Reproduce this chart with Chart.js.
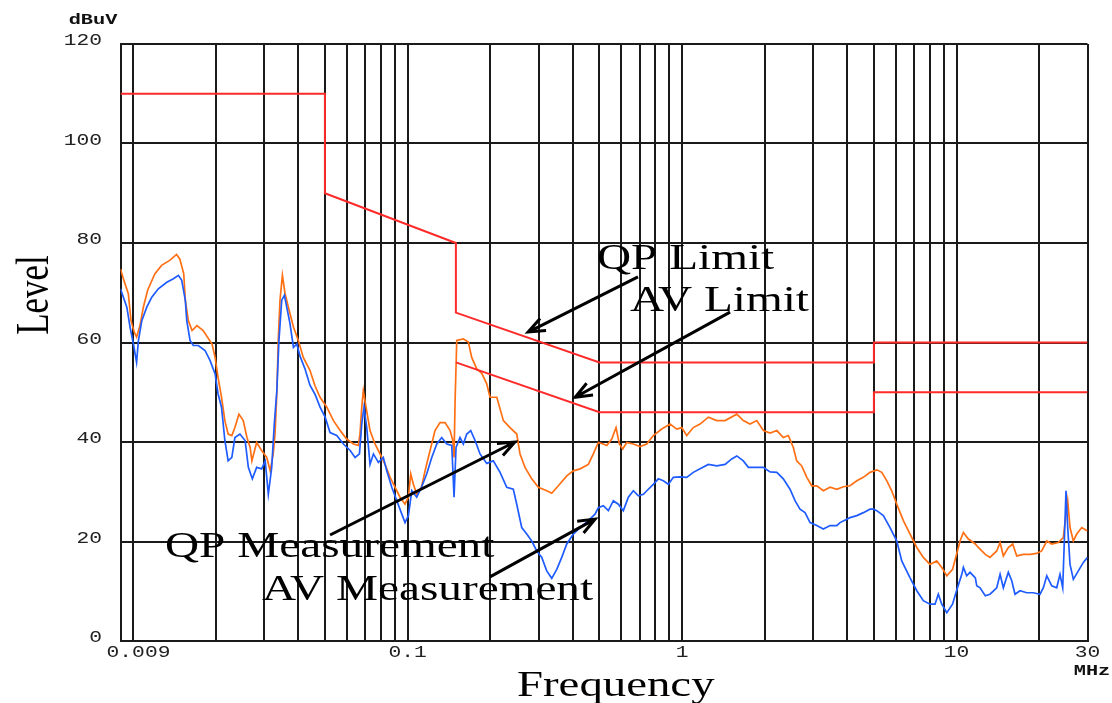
<!DOCTYPE html>
<html>
<head>
<meta charset="utf-8">
<title>Conducted emission scan</title>
<script src="https://cdn.jsdelivr.net/npm/chart.js@4.4.1/dist/chart.umd.min.js"></script>
<style>
  body { margin: 0; background: #fff; }
  canvas { display: block; }
</style>
</head>
<body>
<canvas id="scan" width="1112" height="703"></canvas>
<script>
// frequency in MHz, level in dBuV
var qpFreq = [
  0.009, 0.00922, 0.00961, 0.00983, 0.0101, 0.0103, 0.0106, 0.0109, 0.0113, 0.0120,
  0.0127, 0.0136, 0.0144, 0.0148, 0.0153, 0.0155, 0.0159, 0.0164, 0.0171, 0.0180,
  0.0194, 0.0199, 0.0204, 0.0210, 0.0216, 0.0222, 0.0229, 0.0235, 0.0243, 0.0252,
  0.0260, 0.0267, 0.0271, 0.0282, 0.0294, 0.0307, 0.0316, 0.0324, 0.0329, 0.0334,
  0.0338, 0.0343, 0.0350, 0.0358, 0.0368, 0.0384, 0.0400, 0.0417, 0.0441, 0.0460,
  0.0480, 0.0508, 0.0537, 0.0568, 0.0600, 0.0635, 0.0662, 0.0671, 0.0681, 0.0690,
  0.0706, 0.0730, 0.0761, 0.0794, 0.0828, 0.0864, 0.0901, 0.0939, 0.0979, 0.1007,
  0.1027, 0.1050, 0.1080, 0.1124, 0.1158, 0.1208, 0.1259, 0.1313, 0.1370, 0.1429,
  0.1462, 0.1477, 0.1490, 0.1511, 0.1597, 0.1665, 0.1713, 0.1787, 0.1864, 0.1943,
  0.1997, 0.2114, 0.2234, 0.2362, 0.2499, 0.2569, 0.2679, 0.2834, 0.2996, 0.3214,
  0.3352, 0.3543, 0.3802, 0.4017, 0.4250, 0.4556, 0.4751, 0.4955, 0.5167, 0.5318,
  0.5546, 0.5748, 0.5909, 0.6081, 0.6290, 0.6647, 0.7030, 0.7437, 0.7859, 0.8433,
  0.9043, 0.9566, 0.9975, 1.040, 1.099, 1.163, 1.247, 1.338, 1.435, 1.583,
  1.672, 1.769, 1.872, 1.978, 2.093, 2.215, 2.338, 2.439, 2.544, 2.616,
  2.729, 2.848, 2.969, 3.097, 3.272, 3.461, 3.663, 3.869, 4.093, 4.332,
  4.576, 4.840, 5.123, 5.341, 5.572, 5.806, 6.058, 6.402, 6.771, 7.166,
  7.569, 8.006, 8.473, 8.834, 9.217, 9.670, 10.00, 10.30, 10.59, 11.04,
  11.71, 12.00, 12.73, 13.24, 14.01, 14.41, 14.81, 15.44, 16.02, 16.57,
  17.51, 18.53, 19.59, 20.43, 21.32, 22.23, 23.48, 24.49, 25.05, 25.41,
  25.91, 26.64, 27.41, 28.58, 30.00
];
var qpLevel = [
  74.8, 72.8, 69.8, 64.4, 62.1, 61.1, 63.4, 67.1, 70.5, 73.8,
  75.5, 76.5, 77.7, 76.8, 73.8, 68.5, 64.4, 62.4, 63.4, 62.4,
  59.7, 57.0, 53.0, 49.0, 44.3, 41.6, 41.3, 42.9, 45.6, 44.3,
  40.9, 38.9, 36.2, 39.9, 38.3, 36.9, 34.2, 37.6, 41.6, 49.7,
  60.4, 68.5, 73.5, 69.8, 67.1, 63.1, 60.4, 57.0, 54.4, 51.3,
  49.0, 47.0, 44.3, 42.3, 40.6, 39.6, 39.3, 41.6, 47.0, 50.3,
  47.0, 42.3, 39.6, 37.6, 35.5, 32.9, 30.9, 28.9, 27.5, 28.9,
  33.6, 31.5, 29.5, 30.9, 34.2, 38.3, 42.3, 43.9, 43.9, 42.3,
  40.3, 36.9, 48.3, 60.4, 60.7, 60.1, 57.0, 54.7, 53.8, 51.7,
  49.0, 49.0, 44.3, 42.9, 41.6, 37.6, 34.9, 32.6, 30.9, 30.2,
  29.7, 31.2, 33.2, 34.2, 34.6, 35.5, 37.6, 39.9, 39.6, 39.3,
  40.6, 42.9, 39.6, 38.6, 39.9, 39.6, 39.1, 39.6, 41.3, 42.6,
  43.6, 42.6, 42.9, 41.3, 42.9, 43.6, 45.0, 44.3, 44.3, 45.6,
  44.3, 43.6, 44.3, 42.3, 41.8, 42.3, 40.9, 41.3, 38.9, 36.2,
  35.2, 32.9, 31.2, 31.2, 30.2, 30.9, 30.5, 31.0, 31.2, 32.2,
  32.9, 33.9, 34.4, 33.9, 32.2, 30.2, 27.5, 24.2, 21.5, 18.8,
  16.8, 15.4, 16.1, 14.8, 13.1, 14.4, 17.4, 20.1, 21.8, 20.5,
  19.5, 18.8, 17.4, 16.8, 18.1, 19.8, 17.1, 18.8, 19.5, 17.1,
  17.4, 17.4, 17.6, 18.1, 20.1, 19.5, 19.8, 20.8, 25.5, 28.2,
  22.8, 20.1, 21.5, 22.8, 22.1
];

var avFreq = [
  0.009, 0.00922, 0.00949, 0.00975, 0.01003, 0.0103, 0.01046, 0.01076, 0.01122, 0.01170,
  0.01236, 0.01327, 0.01403, 0.01463, 0.01504, 0.0155, 0.01569, 0.01613, 0.01658, 0.01729,
  0.01829, 0.01907, 0.0199, 0.0204, 0.0210, 0.0216, 0.0222, 0.0229, 0.0235, 0.0245,
  0.0256, 0.0263, 0.0272, 0.0282, 0.0294, 0.0303, 0.0311, 0.0320, 0.0327, 0.0334,
  0.0340, 0.0348, 0.0356, 0.0363, 0.0373, 0.0384, 0.0395, 0.0406, 0.0423, 0.0441,
  0.0460, 0.0480, 0.0501, 0.0522, 0.0552, 0.0584, 0.0618, 0.0644, 0.0668, 0.0681,
  0.0694, 0.0710, 0.0730, 0.0751, 0.0783, 0.0816, 0.0840, 0.0876, 0.0914, 0.0953,
  0.0979, 0.1007, 0.1036, 0.1080, 0.1124, 0.1175, 0.1225, 0.1278, 0.1332, 0.1390,
  0.1449, 0.1477, 0.1502, 0.1553, 0.1597, 0.1643, 0.1699, 0.1762, 0.1837, 0.1943,
  0.2053, 0.2173, 0.2298, 0.2428, 0.2499, 0.2606, 0.2718, 0.2834, 0.2956, 0.3083,
  0.3214, 0.3352, 0.3496, 0.3645, 0.3802, 0.4017, 0.4250, 0.4556, 0.4820, 0.4955,
  0.5167, 0.5390, 0.5620, 0.5860, 0.6110, 0.6374, 0.6647, 0.6931, 0.7227, 0.7537,
  0.7859, 0.8196, 0.8546, 0.8915, 0.9296, 0.9833, 1.040, 1.099, 1.163, 1.247,
  1.338, 1.435, 1.517, 1.583, 1.672, 1.744, 1.872, 1.978, 2.093, 2.215,
  2.338, 2.474, 2.580, 2.690, 2.806, 2.927, 3.097, 3.272, 3.461, 3.663,
  3.763, 4.093, 4.332, 4.576, 4.840, 4.976, 5.123, 5.413, 5.724, 6.058,
  6.316, 6.771, 7.166, 7.569, 8.006, 8.349, 8.583, 8.834, 9.217, 9.670,
  10.00, 10.45, 10.59, 10.89, 11.20, 11.71, 11.85, 12.18, 12.73, 13.24,
  14.01, 14.41, 14.81, 15.44, 15.89, 16.33, 17.03, 18.02, 19.04, 20.14,
  20.72, 21.32, 22.23, 23.17, 23.82, 24.37, 24.70, 25.05, 25.41, 25.91,
  26.64, 27.78, 28.97, 30.00
];
var avLevel = [
  70.8, 69.1, 67.1, 63.1, 59.7, 56.0, 60.4, 64.4, 67.1, 69.1,
  70.8, 72.1, 72.8, 73.5, 72.5, 68.5, 64.4, 60.4, 59.4, 59.4,
  58.4, 56.4, 53.7, 49.7, 47.0, 40.3, 36.2, 36.9, 40.9, 41.6,
  40.3, 34.9, 32.6, 34.9, 34.6, 36.2, 29.5, 34.9, 43.6, 50.3,
  60.4, 68.5, 69.5, 67.1, 63.8, 59.0, 59.7, 57.2, 54.7, 51.4,
  49.6, 47.0, 45.0, 41.9, 41.3, 39.6, 38.3, 36.9, 37.6, 43.6,
  47.0, 42.9, 35.5, 37.6, 35.9, 36.9, 34.2, 30.9, 28.2, 25.5,
  23.8, 25.2, 30.2, 28.9, 30.9, 33.6, 36.9, 39.6, 40.9, 39.6,
  39.3, 28.9, 38.9, 40.9, 39.6, 41.6, 42.3, 40.3, 37.6, 35.7,
  36.2, 33.9, 30.9, 30.5, 27.5, 22.8, 21.5, 20.1, 18.1, 16.8,
  14.1, 12.6, 14.4, 16.8, 19.5, 21.5, 22.8, 24.2, 25.5, 26.8,
  27.2, 26.2, 28.2, 27.5, 26.2, 28.9, 30.2, 29.2, 29.5, 30.5,
  31.5, 32.6, 32.2, 31.5, 32.9, 33.0, 32.9, 33.9, 34.6, 35.5,
  35.2, 35.5, 36.6, 37.2, 36.2, 34.9, 34.9, 34.9, 34.0, 33.9,
  32.6, 30.5, 28.2, 26.5, 25.8, 23.8, 23.2, 22.5, 23.2, 23.2,
  23.8, 24.8, 25.2, 25.8, 26.5, 26.5, 26.2, 25.2, 22.8, 20.1,
  16.1, 12.7, 10.1, 8.1, 7.4, 7.4, 9.4, 7.4, 5.7, 7.4,
  10.1, 13.4, 14.8, 13.1, 13.8, 12.7, 11.1, 10.7, 9.1, 9.4,
  10.7, 13.4, 10.7, 13.8, 12.1, 9.4, 10.1, 9.7, 9.7, 9.4,
  10.7, 13.1, 11.1, 10.7, 13.4, 10.7, 20.1, 30.2, 22.8, 15.4,
  12.4, 14.1, 15.8, 16.8
];

var qpLimitFreq = [0.009, 0.05, 0.05, 0.15, 0.15, 0.5, 5, 5, 30];
var qpLimitLevel = [110, 110, 90, 80, 66, 56, 56, 60, 60];
var avLimitFreq = [0.15, 0.5, 5, 5, 30];
var avLimitLevel = [56, 46, 46, 50, 50];

var xGrid = [0.009, 0.01, 0.02, 0.03, 0.04, 0.05, 0.06, 0.07, 0.08, 0.09,
  0.1, 0.2, 0.3, 0.4, 0.5, 0.6, 0.7, 0.8, 0.9,
  1, 2, 3, 4, 5, 6, 7, 8, 9, 10, 20, 30];
var xTickValues = [0.009, 0.1, 1, 10, 30];
var xTickLabels = ["0.009", "0.1", "1", "10", "30"];
var yTickValues = [0, 20, 40, 60, 80, 100, 120];

// annotation arrows: [freq, level] of tail and head
var notes = [
  { text: "QP Limit", from: [0.691, 73.2], to: [0.275, 62.1] },
  { text: "AV Limit", from: [1.496, 66.1], to: [0.408, 49.0] },
  { text: "QP Measurement", from: [0.0522, 21.3], to: [0.246, 40.0] },
  { text: "AV Measurement", from: [0.1997, 12.9], to: [0.482, 24.5] }
];
var notePos = [[597, 269], [630, 311], [165, 557], [262, 600]];

function pairs(xs, ys) {
  return xs.map(function (x, i) { return { x: x, y: ys[i] }; });
}

function stretchText(ctx, text, x, y, font, sx, align) {
  ctx.save();
  ctx.translate(x, y);
  ctx.scale(sx, 1);
  ctx.font = font;
  ctx.textAlign = align;
  ctx.fillText(text, 0, 0);
  ctx.restore();
}

function arrow(ctx, x1, y1, x2, y2) {
  var a = Math.atan2(y1 - y2, x1 - x2);
  var len = 18, spread = 0.38;
  ctx.beginPath();
  ctx.moveTo(x1, y1);
  ctx.lineTo(x2, y2);
  ctx.moveTo(x2 + len * Math.cos(a - spread), y2 + len * Math.sin(a - spread));
  ctx.lineTo(x2, y2);
  ctx.lineTo(x2 + len * Math.cos(a + spread), y2 + len * Math.sin(a + spread));
  ctx.stroke();
}

var textPlugin = {
  id: "scanText",
  afterDraw: function (chart) {
    var ctx = chart.ctx;
    var xs = chart.scales.x, ys = chart.scales.y;
    var area = chart.chartArea;
    var mono = '17px "Liberation Mono", "DejaVu Sans Mono", monospace';
    var serif = '35px "Liberation Serif", "DejaVu Serif", serif';
    ctx.save();
    ctx.fillStyle = "#222";
    ctx.textBaseline = "middle";
    yTickValues.forEach(function (v) {
      stretchText(ctx, String(v), 102, ys.getPixelForValue(v) - 3.5, mono, 1.25, "right");
    });
    xTickValues.forEach(function (v, i) {
      var px = Math.max(xs.getPixelForValue(v), area.left + 18);
      stretchText(ctx, xTickLabels[i], px, area.bottom + 11, mono, 1.25, "center");
    });
    ctx.fillStyle = "#111";
    stretchText(ctx, "dBuV", 93, 20, 'bold 14px "Liberation Mono", monospace', 1.45, "center");
    stretchText(ctx, "MHz", 1092, 671, 'bold 14px "Liberation Mono", monospace', 1.45, "center");

    ctx.fillStyle = "#000";
    ctx.textBaseline = "alphabetic";
    stretchText(ctx, "Frequency", 517, 696, '36px "Liberation Serif", serif', 1.3, "left");
    ctx.save();
    ctx.translate(48, 295);
    ctx.rotate(-Math.PI / 2);
    ctx.scale(1, 1.35);
    ctx.font = serif;
    ctx.textAlign = "center";
    ctx.fillText("Level", 0, 0);
    ctx.restore();

    ctx.strokeStyle = "#000";
    ctx.lineWidth = 3;
    notes.forEach(function (n, i) {
      stretchText(ctx, n.text, notePos[i][0], notePos[i][1], serif, 1.35, "left");
      arrow(ctx,
        xs.getPixelForValue(n.from[0]), ys.getPixelForValue(n.from[1]),
        xs.getPixelForValue(n.to[0]), ys.getPixelForValue(n.to[1]));
    });
    ctx.restore();
  }
};

var gridOpts = { color: "#1a1a1a", lineWidth: 2, drawTicks: false };
var borderOpts = { color: "#1a1a1a", width: 2 };

var ctxS = document.getElementById("scan").getContext("2d");
var scanChart = new Chart(ctxS, {
  type: "line",
  data: {
    datasets: [
      { label: "QP Limit", data: pairs(qpLimitFreq, qpLimitLevel), borderColor: "#ff2b2b", borderWidth: 2 },
      { label: "AV Limit", data: pairs(avLimitFreq, avLimitLevel), borderColor: "#ff2b2b", borderWidth: 2 },
      { label: "AV", data: pairs(avFreq, avLevel), borderColor: "#1f5cff", borderWidth: 1.7 },
      { label: "QP", data: pairs(qpFreq, qpLevel), borderColor: "#ff7014", borderWidth: 1.7 }
    ]
  },
  options: {
    responsive: false,
    animation: false,
    elements: { point: { radius: 0 }, line: { tension: 0, fill: false } },
    layout: { padding: { top: 44, right: 24.5, left: 0, bottom: 0 } },
    plugins: { legend: { display: false }, tooltip: { enabled: false } },
    scales: {
      x: {
        type: "logarithmic",
        min: 0.009,
        max: 30,
        afterBuildTicks: function (s) {
          s.ticks = xGrid.map(function (v) { return { value: v }; });
        },
        afterFit: function (s) { s.height = 62; },
        ticks: { display: false },
        grid: gridOpts,
        border: borderOpts
      },
      y: {
        min: 0,
        max: 120,
        afterBuildTicks: function (s) {
          s.ticks = yTickValues.map(function (v) { return { value: v }; });
        },
        afterFit: function (s) { s.width = 120.5; },
        ticks: { display: false },
        grid: gridOpts,
        border: borderOpts
      }
    }
  },
  plugins: [textPlugin]
});
</script>
</body>
</html>
